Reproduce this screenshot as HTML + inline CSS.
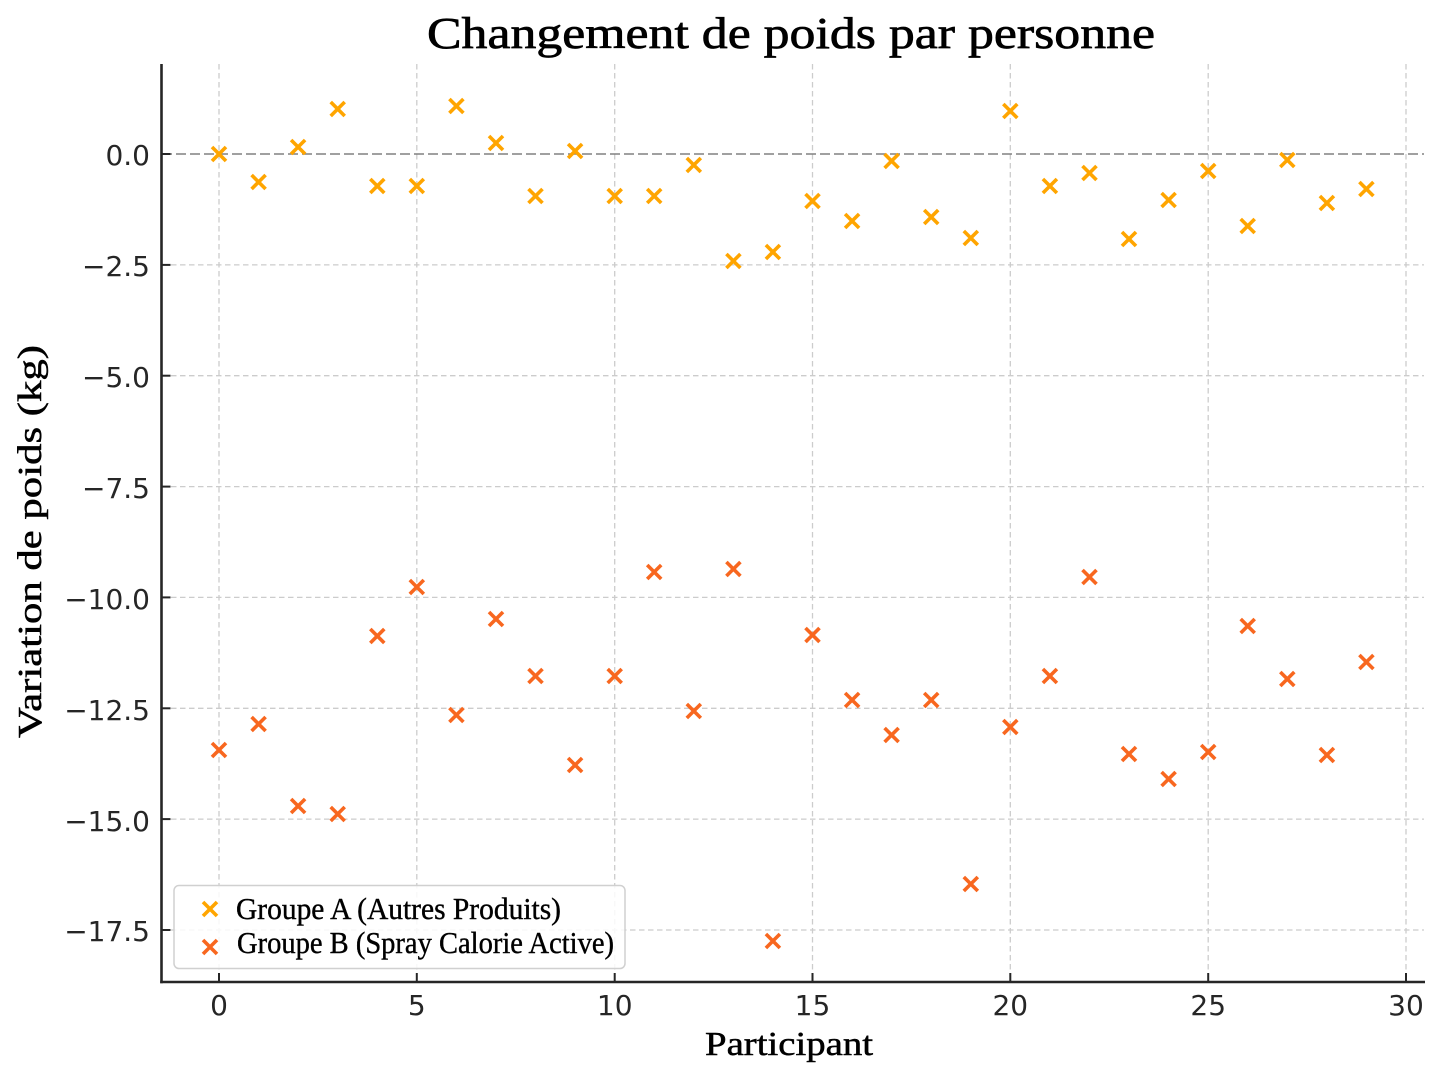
<!DOCTYPE html>
<html>
<head>
<meta charset="utf-8">
<style>
  html, body { margin: 0; padding: 0; background: #ffffff; }
  svg { display: block; }
</style>
</head>
<body>
<svg width="1444" height="1080" viewBox="0 0 1444 1080" xmlns="http://www.w3.org/2000/svg">
  <defs>
    <path id="m" d="M-7,-7L7,7M-7,7L7,-7"/>
  </defs>
  <rect x="0" y="0" width="1444" height="1080" fill="#ffffff"/>

  <!-- grid -->
  <g stroke="#cccccc" stroke-width="1.3" stroke-dasharray="5.5,3.5" fill="none">
    <line x1="219" y1="64" x2="219" y2="982"/>
    <line x1="416.8" y1="64" x2="416.8" y2="982"/>
    <line x1="614.7" y1="64" x2="614.7" y2="982"/>
    <line x1="812.5" y1="64" x2="812.5" y2="982"/>
    <line x1="1010.3" y1="64" x2="1010.3" y2="982"/>
    <line x1="1208.2" y1="64" x2="1208.2" y2="982"/>
    <line x1="1406" y1="64" x2="1406" y2="982"/>
    <line x1="162" y1="264.9" x2="1424" y2="264.9"/>
    <line x1="162" y1="375.7" x2="1424" y2="375.7"/>
    <line x1="162" y1="486.6" x2="1424" y2="486.6"/>
    <line x1="162" y1="597.4" x2="1424" y2="597.4"/>
    <line x1="162" y1="708.3" x2="1424" y2="708.3"/>
    <line x1="162" y1="819.1" x2="1424" y2="819.1"/>
    <line x1="162" y1="930" x2="1424" y2="930"/>
  </g>
  <!-- zero line -->
  <line x1="162" y1="154" x2="1424" y2="154" stroke="#808080" stroke-width="1.6" stroke-dasharray="10,4"/>

  <!-- Group A -->
  <g stroke="#FFA500" stroke-width="3.6" fill="none">
    <use href="#m" x="219" y="154"/>
    <use href="#m" x="258.6" y="182"/>
    <use href="#m" x="298.1" y="147"/>
    <use href="#m" x="337.7" y="109"/>
    <use href="#m" x="377.3" y="186"/>
    <use href="#m" x="416.8" y="186"/>
    <use href="#m" x="456.4" y="106"/>
    <use href="#m" x="496" y="143"/>
    <use href="#m" x="535.5" y="196"/>
    <use href="#m" x="575.1" y="151"/>
    <use href="#m" x="614.7" y="196"/>
    <use href="#m" x="654.2" y="196"/>
    <use href="#m" x="693.8" y="165"/>
    <use href="#m" x="733.4" y="261"/>
    <use href="#m" x="772.9" y="252"/>
    <use href="#m" x="812.5" y="201"/>
    <use href="#m" x="852.1" y="221"/>
    <use href="#m" x="891.6" y="161"/>
    <use href="#m" x="931.2" y="217"/>
    <use href="#m" x="970.8" y="238"/>
    <use href="#m" x="1010.3" y="111"/>
    <use href="#m" x="1049.9" y="186"/>
    <use href="#m" x="1089.5" y="173"/>
    <use href="#m" x="1129" y="239"/>
    <use href="#m" x="1168.6" y="200"/>
    <use href="#m" x="1208.2" y="171"/>
    <use href="#m" x="1247.7" y="226"/>
    <use href="#m" x="1287.3" y="160"/>
    <use href="#m" x="1326.9" y="203"/>
    <use href="#m" x="1366.4" y="189"/>
  </g>

  <!-- Group B -->
  <g stroke="#F8671F" stroke-width="3.6" fill="none">
    <use href="#m" x="219" y="750"/>
    <use href="#m" x="258.6" y="724"/>
    <use href="#m" x="298.1" y="806"/>
    <use href="#m" x="337.7" y="814"/>
    <use href="#m" x="377.3" y="636"/>
    <use href="#m" x="416.8" y="587"/>
    <use href="#m" x="456.4" y="715"/>
    <use href="#m" x="496" y="619"/>
    <use href="#m" x="535.5" y="676"/>
    <use href="#m" x="575.1" y="765"/>
    <use href="#m" x="614.7" y="676"/>
    <use href="#m" x="654.2" y="572"/>
    <use href="#m" x="693.8" y="711"/>
    <use href="#m" x="733.4" y="569"/>
    <use href="#m" x="772.9" y="941"/>
    <use href="#m" x="812.5" y="635"/>
    <use href="#m" x="852.1" y="700"/>
    <use href="#m" x="891.6" y="735"/>
    <use href="#m" x="931.2" y="700"/>
    <use href="#m" x="970.8" y="884"/>
    <use href="#m" x="1010.3" y="727"/>
    <use href="#m" x="1049.9" y="676"/>
    <use href="#m" x="1089.5" y="577"/>
    <use href="#m" x="1129" y="754"/>
    <use href="#m" x="1168.6" y="779"/>
    <use href="#m" x="1208.2" y="752"/>
    <use href="#m" x="1247.7" y="626"/>
    <use href="#m" x="1287.3" y="679"/>
    <use href="#m" x="1326.9" y="755"/>
    <use href="#m" x="1366.4" y="662"/>
  </g>

  <!-- spines -->
  <g stroke="#262626" stroke-width="2.6" fill="none">
    <line x1="161.5" y1="64" x2="161.5" y2="983.3"/>
    <line x1="160.2" y1="982" x2="1425" y2="982"/>
  </g>
  <!-- ticks (inward) -->
  <g stroke="#262626" stroke-width="2" fill="none">
    <line x1="219" y1="982" x2="219" y2="973"/>
    <line x1="416.8" y1="982" x2="416.8" y2="973"/>
    <line x1="614.7" y1="982" x2="614.7" y2="973"/>
    <line x1="812.5" y1="982" x2="812.5" y2="973"/>
    <line x1="1010.3" y1="982" x2="1010.3" y2="973"/>
    <line x1="1208.2" y1="982" x2="1208.2" y2="973"/>
    <line x1="1406" y1="982" x2="1406" y2="973"/>
    <line x1="161.5" y1="154" x2="170.5" y2="154"/>
    <line x1="161.5" y1="264.9" x2="170.5" y2="264.9"/>
    <line x1="161.5" y1="375.7" x2="170.5" y2="375.7"/>
    <line x1="161.5" y1="486.6" x2="170.5" y2="486.6"/>
    <line x1="161.5" y1="597.4" x2="170.5" y2="597.4"/>
    <line x1="161.5" y1="708.3" x2="170.5" y2="708.3"/>
    <line x1="161.5" y1="819.1" x2="170.5" y2="819.1"/>
    <line x1="161.5" y1="930" x2="170.5" y2="930"/>
  </g>

  <!-- tick labels -->
  <g font-family="'DejaVu Sans', 'Liberation Sans', sans-serif" font-size="28" fill="#262626">
    <g text-anchor="middle">
      <text x="219" y="1015">0</text>
      <text x="416.8" y="1015">5</text>
      <text x="614.7" y="1015">10</text>
      <text x="812.5" y="1015">15</text>
      <text x="1010.3" y="1015">20</text>
      <text x="1208.2" y="1015">25</text>
      <text x="1406" y="1015">30</text>
    </g>
    <g text-anchor="end">
      <text x="150" y="165">0.0</text>
      <text x="150" y="276">−2.5</text>
      <text x="150" y="387">−5.0</text>
      <text x="150" y="498">−7.5</text>
      <text x="150" y="609">−10.0</text>
      <text x="150" y="720">−12.5</text>
      <text x="150" y="831">−15.0</text>
      <text x="150" y="941">−17.5</text>
    </g>
  </g>

  <!-- legend -->
  <rect x="174" y="885.5" width="451" height="83" rx="5" ry="5" fill="#ffffff" fill-opacity="0.85" stroke="#d0d0d0" stroke-width="1.5"/>
  <use href="#m" x="210" y="909" stroke="#FFA500" stroke-width="3.6"/>
  <use href="#m" x="210" y="947" stroke="#F8671F" stroke-width="3.6"/>
  <g font-family="'Liberation Serif', 'DejaVu Serif', serif" font-size="31" fill="#000000" stroke="#000000" stroke-width="0.4">
    <text x="236" y="919" textLength="325" lengthAdjust="spacingAndGlyphs">Groupe A (Autres Produits)</text>
    <text x="237" y="953" textLength="377" lengthAdjust="spacingAndGlyphs">Groupe B (Spray Calorie Active)</text>
  </g>

  <!-- title & axis labels -->
  <g font-family="'Liberation Serif', 'DejaVu Serif', serif" fill="#000000" stroke="#000000">
    <text x="427" y="48" font-size="44" stroke-width="0.7" textLength="728" lengthAdjust="spacingAndGlyphs">Changement de poids par personne</text>
    <text x="705" y="1055" font-size="34" stroke-width="0.5" textLength="168" lengthAdjust="spacingAndGlyphs">Participant</text>
    <text x="0" y="0" font-size="34" stroke-width="0.5" text-anchor="middle" transform="translate(41,541.5) rotate(-90)" textLength="393" lengthAdjust="spacingAndGlyphs">Variation de poids (kg)</text>
  </g>
</svg>
</body>
</html>
